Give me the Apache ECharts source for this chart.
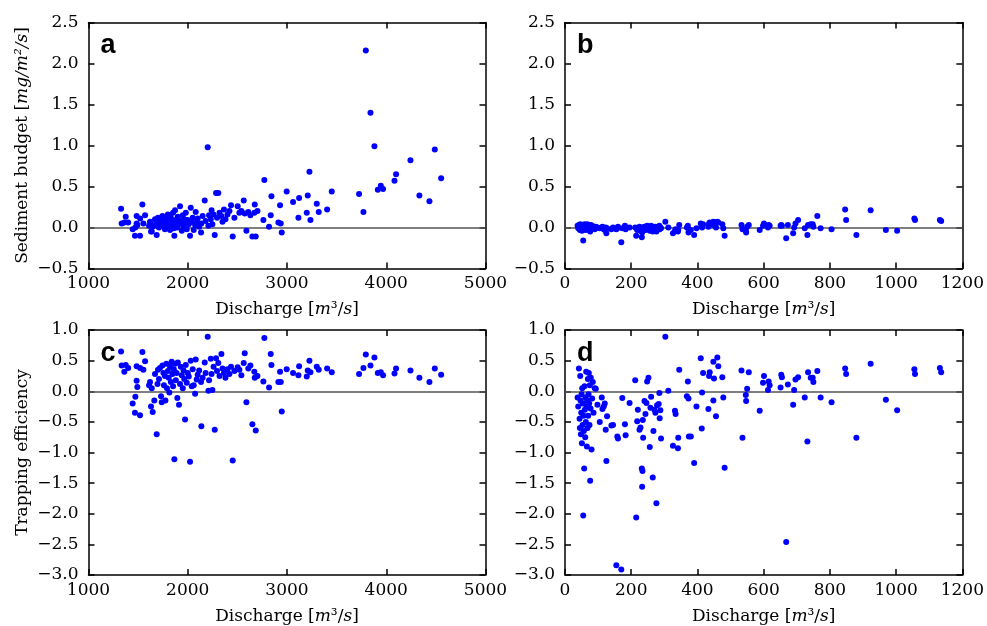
<!DOCTYPE html>
<html><head><meta charset="utf-8">
<script src="https://cdn.jsdelivr.net/npm/echarts@6/dist/echarts.min.js"></script>
<style>html,body{margin:0;padding:0;background:#fff}#c{width:987px;height:626px}</style>
</head><body><div id="c"></div>
<script>
// Panels a & c (same discharge values)
const discharge1 = [1328,1334,1361,1375,1400,1445,1468,1472,1485,1485,1492,1519,1520,1543,1553,1570,1610,1620,1630,1637,1647,1663,1670,1687,1695,1700,1710,1720,1731,1738,1745,1755,1760,1770,1775,1785,1790,1800,1808,1815,1822,1830,1838,1845,1852,1860,1865,1872,1880,1888,1895,1900,1912,1922,1930,1940,1950,1958,1965,1973,1980,1990,2000,2010,2023,2030,2040,2050,2060,2074,2080,2090,2100,2115,2134,2137,2150,2171,2180,2201,2208,2215,2232,2240,2248,2260,2272,2285,2295,2308,2320,2339,2350,2365,2380,2400,2420,2436,2453,2470,2503,2520,2540,2564,2574,2591,2610,2631,2651,2671,2675,2685,2702,2762,2772,2819,2836,2843,2913,2930,2937,2947,2997,3061,3115,3122,3199,3209,3226,3236,3300,3320,3404,3451,3726,3770,3794,3841,3881,3915,3945,3968,4083,4099,4244,4334,4435,4489,4553];
const budget1 = [0.23,0.05,0.06,0.13,0.06,-0.02,-0.10,0.00,0.14,0.05,0.03,-0.10,0.11,0.28,0.05,0.15,0.02,0.07,-0.05,-0.05,0.01,0.03,0.10,-0.09,0.04,0.12,0.00,0.08,0.02,0.06,0.14,0.03,0.09,-0.02,0.05,0.11,0.00,0.16,0.04,0.07,-0.03,0.12,0.02,0.08,0.18,-0.01,-0.10,0.21,0.05,0.10,0.00,0.13,0.04,0.26,0.08,-0.04,0.15,0.02,0.10,0.06,0.18,-0.02,0.09,0.04,-0.10,0.24,0.07,0.12,-0.03,0.03,0.19,0.06,0.11,0.01,-0.06,0.05,0.14,0.33,0.08,0.98,0.02,0.15,0.10,0.21,0.04,0.16,-0.09,0.42,0.12,0.42,0.18,0.14,0.07,0.22,0.10,0.16,0.20,0.27,-0.11,0.12,0.26,0.18,0.20,0.33,0.17,-0.04,0.19,0.15,-0.11,0.18,0.28,-0.11,0.20,0.09,0.58,0.01,0.15,0.38,0.06,0.27,0.05,-0.06,0.44,0.31,0.12,0.36,0.18,0.39,0.68,0.09,0.29,0.19,0.22,0.44,0.41,0.19,2.16,1.40,0.99,0.46,0.51,0.47,0.57,0.65,0.82,0.39,0.32,0.95,0.60];
const trap1 = [0.65,0.42,0.32,0.43,0.38,-0.20,-0.35,-0.09,0.41,0.17,0.07,-0.39,0.38,0.64,0.35,0.49,0.10,0.15,-0.25,0.05,-0.34,-0.15,0.28,-0.70,0.12,0.35,0.20,0.38,-0.08,-0.18,0.42,0.30,0.10,0.25,-0.15,0.45,0.05,0.33,0.22,-0.02,0.40,0.15,0.48,0.28,0.08,0.36,-1.11,0.45,0.18,0.30,-0.11,0.47,-0.22,0.12,0.40,0.26,0.05,0.34,0.20,-0.46,0.43,0.14,0.30,0.24,-1.15,0.50,0.08,0.36,0.10,-0.04,0.52,0.19,0.27,0.34,0.15,-0.57,0.22,0.47,0.30,0.89,0.01,0.18,0.53,0.28,0.02,0.40,-0.63,0.54,0.33,0.46,0.25,0.61,0.37,0.30,0.22,0.36,0.28,0.40,-1.13,0.33,0.39,0.35,0.26,0.46,0.62,-0.18,0.37,0.42,-0.54,0.32,0.22,-0.64,0.25,0.16,0.87,0.06,0.61,0.43,0.15,0.32,0.15,-0.33,0.36,0.30,0.26,0.41,0.24,0.34,0.50,0.31,0.40,0.35,0.37,0.31,0.28,0.38,0.60,0.42,0.55,0.30,0.31,0.26,0.29,0.37,0.34,0.22,0.15,0.37,0.27];

// Panels b & d (same discharge values)
const discharge2 = [38,40,42,44,45,46,47,48,49,50,51,52,53,54,55,56,57,58,59,60,61,62,63,64,65,66,67,68,69,70,71,72,73,74,75,76,77,78,80,82,84,86,90,93,98,105,111,113,117,120,123,125,127,140,145,155,158,160,170,173,181,183,195,212,215,218,220,225,228,232,233,234,235,236,240,243,246,248,252,256,258,260,265,267,270,273,276,278,283,285,286,288,290,303,312,326,332,334,341,342,345,368,371,373,374,380,390,397,410,413,414,417,433,435,437,448,448,450,456,460,463,475,478,482,533,536,546,547,550,555,588,598,601,613,615,618,651,653,655,668,673,689,692,696,704,724,732,734,742,748,750,762,772,805,846,849,880,923,969,1003,1055,1057,1132,1136];
const budget2 = [0.02,-0.01,0.03,0.00,-0.03,0.04,0.01,-0.02,0.02,0.00,-0.04,0.03,0.01,-0.02,-0.16,0.02,0.00,-0.01,0.04,0.01,-0.03,0.02,0.00,0.03,-0.02,0.01,0.04,-0.01,0.02,0.00,-0.03,0.03,0.01,-0.02,0.02,-0.05,0.00,0.03,-0.01,0.02,0.00,0.01,-0.02,0.01,0.00,-0.01,0.00,0.01,-0.02,-0.03,0.00,-0.07,-0.01,-0.02,0.00,-0.02,-0.01,0.01,-0.18,-0.01,0.02,-0.02,0.00,0.00,-0.10,-0.03,-0.01,0.01,-0.04,-0.12,-0.06,-0.02,0.00,-0.02,0.01,-0.03,0.00,0.02,0.01,-0.04,0.00,0.02,-0.05,0.00,-0.02,0.01,-0.05,0.00,0.01,0.02,-0.02,0.00,-0.01,0.07,0.00,-0.07,-0.04,-0.02,-0.05,-0.03,0.03,0.00,0.02,-0.06,-0.02,-0.03,-0.09,-0.01,0.05,0.02,0.00,0.04,0.01,0.05,0.06,0.07,0.03,0.05,0.00,0.07,0.06,0.04,-0.01,-0.10,0.03,-0.02,-0.03,-0.06,0.01,0.03,-0.03,0.02,0.05,0.00,0.03,0.02,0.02,0.03,0.02,-0.13,0.03,-0.07,0.00,0.05,0.09,-0.01,-0.09,0.03,0.04,0.04,0.01,0.14,-0.01,-0.02,0.22,0.09,-0.09,0.21,-0.03,-0.04,0.11,0.09,0.09,0.08];
const trap2 = [-0.10,-0.25,0.37,-0.45,-0.60,0.25,-0.15,-0.70,-0.35,-0.05,-0.85,0.05,-0.55,-0.20,-2.03,-0.40,-0.65,-1.26,0.08,-0.30,-0.75,-0.10,-0.50,0.32,-0.25,-0.90,-0.15,-0.60,0.20,-0.40,-0.05,0.30,-0.20,-0.55,0.10,-1.46,-0.28,0.22,-0.95,-0.12,0.15,-0.35,0.05,0.04,-0.22,-0.50,-0.10,-0.29,-0.25,-0.20,-0.63,-1.14,-0.41,-0.56,-0.55,-2.84,-0.74,-0.77,-2.91,-0.11,-0.54,-0.72,-0.19,0.18,-2.06,-0.49,-0.30,-0.63,-0.59,-1.26,-1.56,-1.30,-0.47,-0.76,-0.16,-0.37,-0.19,0.16,0.22,-0.91,-0.27,-0.09,-1.41,-0.65,-0.30,-0.35,-1.83,-0.23,-0.21,-0.03,-0.44,-0.31,-0.77,0.89,0.01,-0.89,-0.32,-0.37,-0.93,-0.76,0.35,-0.08,0.16,-0.12,-0.74,-0.74,-1.17,-0.25,0.54,-0.61,-0.02,0.30,-0.29,0.25,0.31,0.48,-0.15,0.21,-0.41,0.55,0.41,0.23,-0.10,-1.25,0.34,-0.76,-0.06,-0.16,0.04,0.31,-0.32,0.14,0.25,0.02,0.16,0.10,0.06,0.27,0.23,-2.46,0.11,-0.22,0.02,0.19,0.23,-0.10,-0.82,0.31,0.22,0.22,0.15,0.33,-0.10,-0.18,0.37,0.28,-0.76,0.45,-0.14,-0.31,0.36,0.28,0.38,0.31];

const xTicksA = {min: 1000, max: 5000, interval: 1000};
const xTicksB = {min: 0, max: 1200, interval: 200};
const yTicksTop = {min: -0.5, max: 2.5, interval: 0.5};
const yTicksBot = {min: -3.0, max: 1.0, interval: 0.5};
const panelLetters = ['a', 'b', 'c', 'd'];

const FONT = 'DejaVu Serif';
const FS = 17;
const grids = [
  {left: 88.5, top: 22.5, width: 397, height: 246},
  {left: 565, top: 22.5, width: 398, height: 246},
  {left: 88.5, top: 330, width: 397, height: 247},
  {left: 565, top: 330, width: 398, height: 247}
];
const lineS = {color: '#000', width: 1.5};
const nameRich = {i: {fontStyle: 'italic', fontFamily: FONT, fontSize: FS, color: '#000'}, n: {fontFamily: FONT, fontSize: FS, color: '#000'}};
const xAxes = [], yAxes = [];
const fmtY = v => (v < 0 ? '\u2212' : '') + Math.abs(v).toFixed(1);
const fmtX = v => String(Math.round(v));
grids.forEach((g, k) => {
  const xt = (k % 2 === 0) ? xTicksA : xTicksB;
  const yt = (k < 2) ? yTicksTop : yTicksBot;
  const common = {gridIndex: k, splitLine: {show: false}, axisLine: {show: true, lineStyle: lineS, onZero: false},
    axisTick: {show: true, inside: true, length: 6, lineStyle: lineS}};
  xAxes.push(Object.assign({}, common, {type: 'value', position: 'bottom', min: xt.min, max: xt.max, interval: xt.interval,
    axisLabel: {color: '#000', fontFamily: FONT, fontSize: FS, margin: 7, formatter: fmtX},
    name: '{n|Discharge [}{i|m}{n|³/}{i|s}{n|]}', nameLocation: 'middle', nameGap: 33,
    nameTextStyle: {rich: nameRich}}));
  xAxes.push(Object.assign({}, common, {type: 'value', position: 'top', min: xt.min, max: xt.max, interval: xt.interval,
    axisLabel: {show: false}}));
  const ya = Object.assign({}, common, {type: 'value', position: 'left', min: yt.min, max: yt.max, interval: yt.interval,
    axisLabel: {color: '#000', fontFamily: FONT, fontSize: FS, margin: 10, formatter: fmtY}});
  if (k === 0) {
    ya.name = '{n|Sediment budget [}{i|mg/m²/s}{n|]}';
    ya.nameLocation = 'middle'; ya.nameGap = 57;
    ya.nameTextStyle = {rich: nameRich};
  }
  if (k === 2) {
    ya.name = 'Trapping efficiency';
    ya.nameLocation = 'middle'; ya.nameGap = 57;
    ya.nameTextStyle = {fontFamily: FONT, fontSize: FS, color: '#000'};
  }
  yAxes.push(ya);
  yAxes.push(Object.assign({}, common, {type: 'value', position: 'right', min: yt.min, max: yt.max, interval: yt.interval,
    axisLabel: {show: false}}));
});

const panelData = [
  discharge1.map((q, i) => [q, budget1[i]]),
  discharge2.map((q, i) => [q, budget2[i]]),
  discharge1.map((q, i) => [q, trap1[i]]),
  discharge2.map((q, i) => [q, trap2[i]])
];
const series = panelData.map((d, k) => ({
  type: 'scatter', xAxisIndex: 2 * k, yAxisIndex: 2 * k, data: d, symbolSize: 6,
  itemStyle: {color: '#0000ff', opacity: 1}, z: 3,
  markLine: {silent: true, symbol: 'none', label: {show: false}, z: 2,
    lineStyle: {color: '#555', width: 1.5, type: 'solid'}, data: [{yAxis: 0}]}
}));

const graphics = panelLetters.map((t, k) => ({
  type: 'text', left: grids[k].left + 12, top: grids[k].top + 10,
  style: {text: t, font: 'bold 27px "Liberation Sans"', fill: '#000'}
}));

const chart = echarts.init(document.getElementById('c'), null, {renderer: 'canvas'});
chart.setOption({
  animation: false, backgroundColor: '#fff',
  grid: grids, xAxis: xAxes, yAxis: yAxes, series: series, graphic: graphics
});
</script></body></html>
